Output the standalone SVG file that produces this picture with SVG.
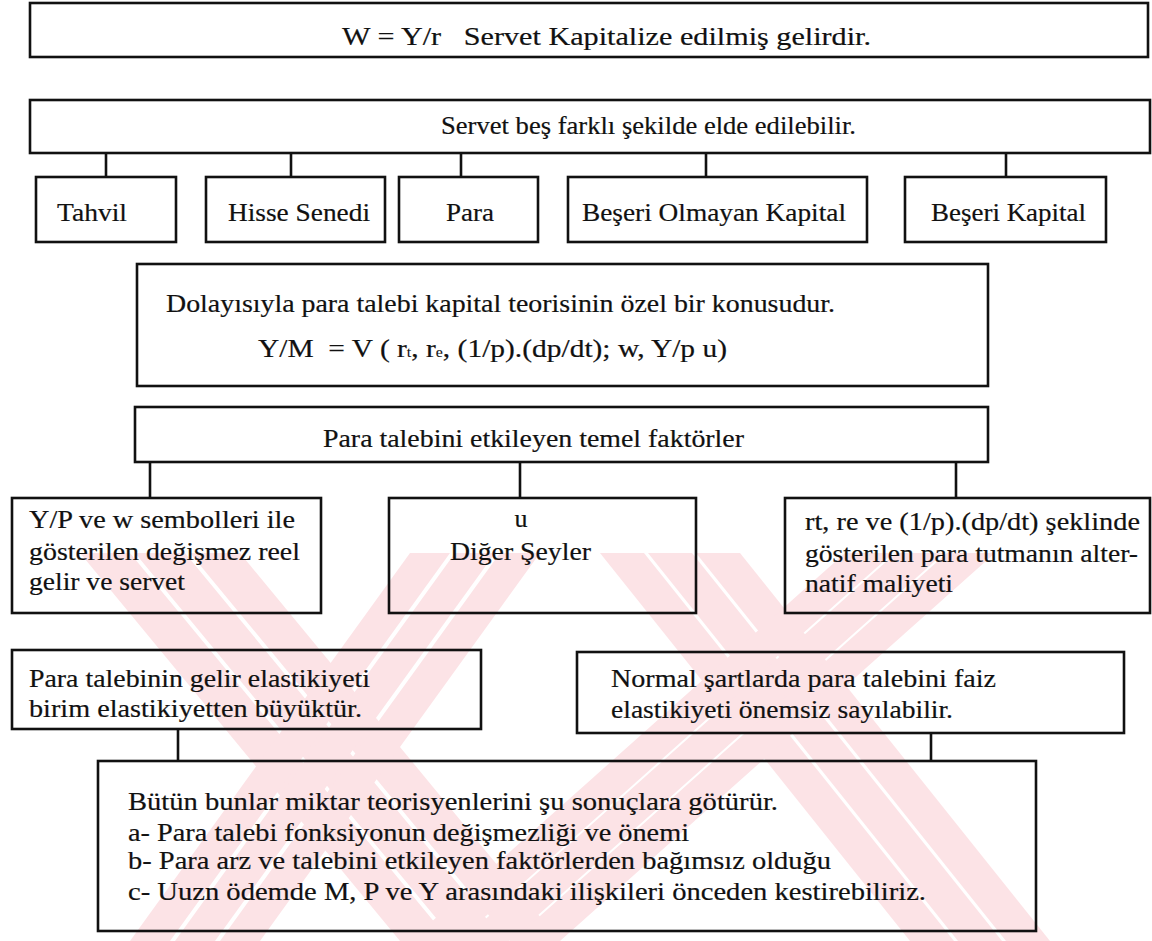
<svg xmlns="http://www.w3.org/2000/svg" width="1152" height="941" viewBox="0 0 1152 941">
<style>
.bx{fill:none;stroke:#111;stroke-width:2.6}
.cn{stroke:#111;stroke-width:2.6;fill:none}
.t{font-family:"Liberation Serif","Times New Roman","DejaVu Serif",serif;font-size:26px;fill:#111;stroke:#111;stroke-width:0.2}
.wm{fill:#fce3e6}
</style>
<rect width="1152" height="941" fill="#fff"/>
<g id="watermark">
<polygon class="wm" points="80,553 130,553 450,941 400,941"/>
<polygon class="wm" points="135,553 185,553 505,941 455,941"/>
<polygon class="wm" points="190,553 240,553 560,941 510,941"/>
<polygon class="wm" points="410,553 450,553 170,941 130,941"/>
<polygon class="wm" points="455,553 495,553 215,941 175,941"/>
<polygon class="wm" points="500,553 540,553 260,941 220,941"/>
<polygon class="wm" points="600,553 644,553 954,941 910,941"/>
<polygon class="wm" points="648,553 692,553 1002,941 958,941"/>
<polygon class="wm" points="696,553 740,553 1050,941 1006,941"/>
<polygon class="wm" points="845,553 893,553 458,941 410,941"/>
<polygon class="wm" points="896,553 944,553 509,941 461,941"/>
<polygon class="wm" points="947,553 995,553 560,941 512,941"/>
</g>
<g id="connectors">
<line class="cn" x1="106" y1="153" x2="106" y2="177"/>
<line class="cn" x1="291" y1="153" x2="291" y2="177"/>
<line class="cn" x1="461" y1="153" x2="461" y2="177"/>
<line class="cn" x1="706" y1="153" x2="706" y2="177"/>
<line class="cn" x1="1006" y1="153" x2="1006" y2="177"/>
<line class="cn" x1="150" y1="462" x2="150" y2="498"/>
<line class="cn" x1="520" y1="462" x2="520" y2="498"/>
<line class="cn" x1="956" y1="462" x2="956" y2="498"/>
<line class="cn" x1="178" y1="729" x2="178" y2="761"/>
<line class="cn" x1="931" y1="733" x2="931" y2="761"/>
</g>
<g id="n-wealth">
<rect class="bx" x="30" y="3" width="1118" height="54"/>
<text class="t" x="342" y="45" textLength="529" lengthAdjust="spacingAndGlyphs">W = Y/r&#160;&#160; Servet Kapitalize edilmiş gelirdir.</text>
</g>
<g id="n-forms">
<rect class="bx" x="30" y="100" width="1120" height="53"/>
<text class="t" x="441" y="134" textLength="415" lengthAdjust="spacingAndGlyphs">Servet beş farklı şekilde elde edilebilir.</text>
</g>
<g id="n-tahvil">
<rect class="bx" x="36" y="177" width="140" height="65"/>
<text class="t" x="57" y="221" textLength="70" lengthAdjust="spacingAndGlyphs">Tahvil</text>
</g>
<g id="n-hisse">
<rect class="bx" x="206" y="177" width="179" height="65"/>
<text class="t" x="228" y="221" textLength="142" lengthAdjust="spacingAndGlyphs">Hisse Senedi</text>
</g>
<g id="n-para">
<rect class="bx" x="399" y="177" width="139" height="65"/>
<text class="t" x="446" y="221" textLength="48" lengthAdjust="spacingAndGlyphs">Para</text>
</g>
<g id="n-beseri-olmayan">
<rect class="bx" x="568" y="177" width="299" height="65"/>
<text class="t" x="582" y="221" textLength="264" lengthAdjust="spacingAndGlyphs">Beşeri Olmayan Kapital</text>
</g>
<g id="n-beseri">
<rect class="bx" x="905" y="177" width="201" height="65"/>
<text class="t" x="931" y="221" textLength="155" lengthAdjust="spacingAndGlyphs">Beşeri Kapital</text>
</g>
<g id="n-capital-theory">
<rect class="bx" x="137" y="264" width="851" height="122"/>
<text class="t" x="166" y="312" textLength="669" lengthAdjust="spacingAndGlyphs">Dolayısıyla para talebi kapital teorisinin özel bir konusudur.</text>
<text class="t" x="258" y="357" textLength="469" lengthAdjust="spacingAndGlyphs">Y/M&#160; = V ( r<tspan font-size="14" stroke-width="0.1">t</tspan>, r<tspan font-size="14" stroke-width="0.1">e</tspan>, (1/p).(dp/dt); w, Y/p u)</text>
</g>
<g id="n-factors">
<rect class="bx" x="135" y="407" width="853" height="55"/>
<text class="t" x="323" y="447" textLength="421" lengthAdjust="spacingAndGlyphs">Para talebini etkileyen temel faktörler</text>
</g>
<g id="n-income">
<rect class="bx" x="12" y="498" width="309" height="115"/>
<text class="t" x="29" y="528" textLength="266" lengthAdjust="spacingAndGlyphs">Y/P ve w sembolleri ile</text>
<text class="t" x="29" y="560" textLength="271" lengthAdjust="spacingAndGlyphs">gösterilen değişmez reel</text>
<text class="t" x="29" y="590" textLength="156" lengthAdjust="spacingAndGlyphs">gelir ve servet</text>
</g>
<g id="n-other">
<rect class="bx" x="389" y="498" width="307" height="115"/>
<text class="t" x="521" y="527" text-anchor="middle">u</text>
<text class="t" x="450" y="560" textLength="141" lengthAdjust="spacingAndGlyphs">Diğer Şeyler</text>
</g>
<g id="n-cost">
<rect class="bx" x="785" y="498" width="365" height="115"/>
<text class="t" x="805" y="530" textLength="335" lengthAdjust="spacingAndGlyphs">rt, re ve (1/p).(dp/dt) şeklinde</text>
<text class="t" x="805" y="562" textLength="333" lengthAdjust="spacingAndGlyphs">gösterilen para tutmanın alter-</text>
<text class="t" x="805" y="592" textLength="148" lengthAdjust="spacingAndGlyphs">natif maliyeti</text>
</g>
<g id="n-income-elasticity">
<rect class="bx" x="12" y="650" width="469" height="79"/>
<text class="t" x="29" y="687" textLength="341" lengthAdjust="spacingAndGlyphs">Para talebinin gelir elastikiyeti</text>
<text class="t" x="29" y="717" textLength="333" lengthAdjust="spacingAndGlyphs">birim elastikiyetten büyüktür.</text>
</g>
<g id="n-interest-elasticity">
<rect class="bx" x="577" y="652" width="547" height="81"/>
<text class="t" x="611" y="687" textLength="385" lengthAdjust="spacingAndGlyphs">Normal şartlarda para talebini faiz</text>
<text class="t" x="611" y="718" textLength="342" lengthAdjust="spacingAndGlyphs">elastikiyeti önemsiz sayılabilir.</text>
</g>
<g id="n-conclusions">
<rect class="bx" x="98" y="761" width="938" height="170"/>
<text class="t" x="128" y="810" textLength="650" lengthAdjust="spacingAndGlyphs">Bütün bunlar miktar teorisyenlerini şu sonuçlara götürür.</text>
<text class="t" x="128" y="841" textLength="561" lengthAdjust="spacingAndGlyphs">a- Para talebi fonksiyonun değişmezliği ve önemi</text>
<text class="t" x="128" y="869" textLength="703" lengthAdjust="spacingAndGlyphs">b- Para arz ve talebini etkileyen faktörlerden bağımsız olduğu</text>
<text class="t" x="128" y="900" textLength="798" lengthAdjust="spacingAndGlyphs">c- Uuzn ödemde M, P ve Y arasındaki ilişkileri önceden kestirebiliriz.</text>
</g>
</svg>
